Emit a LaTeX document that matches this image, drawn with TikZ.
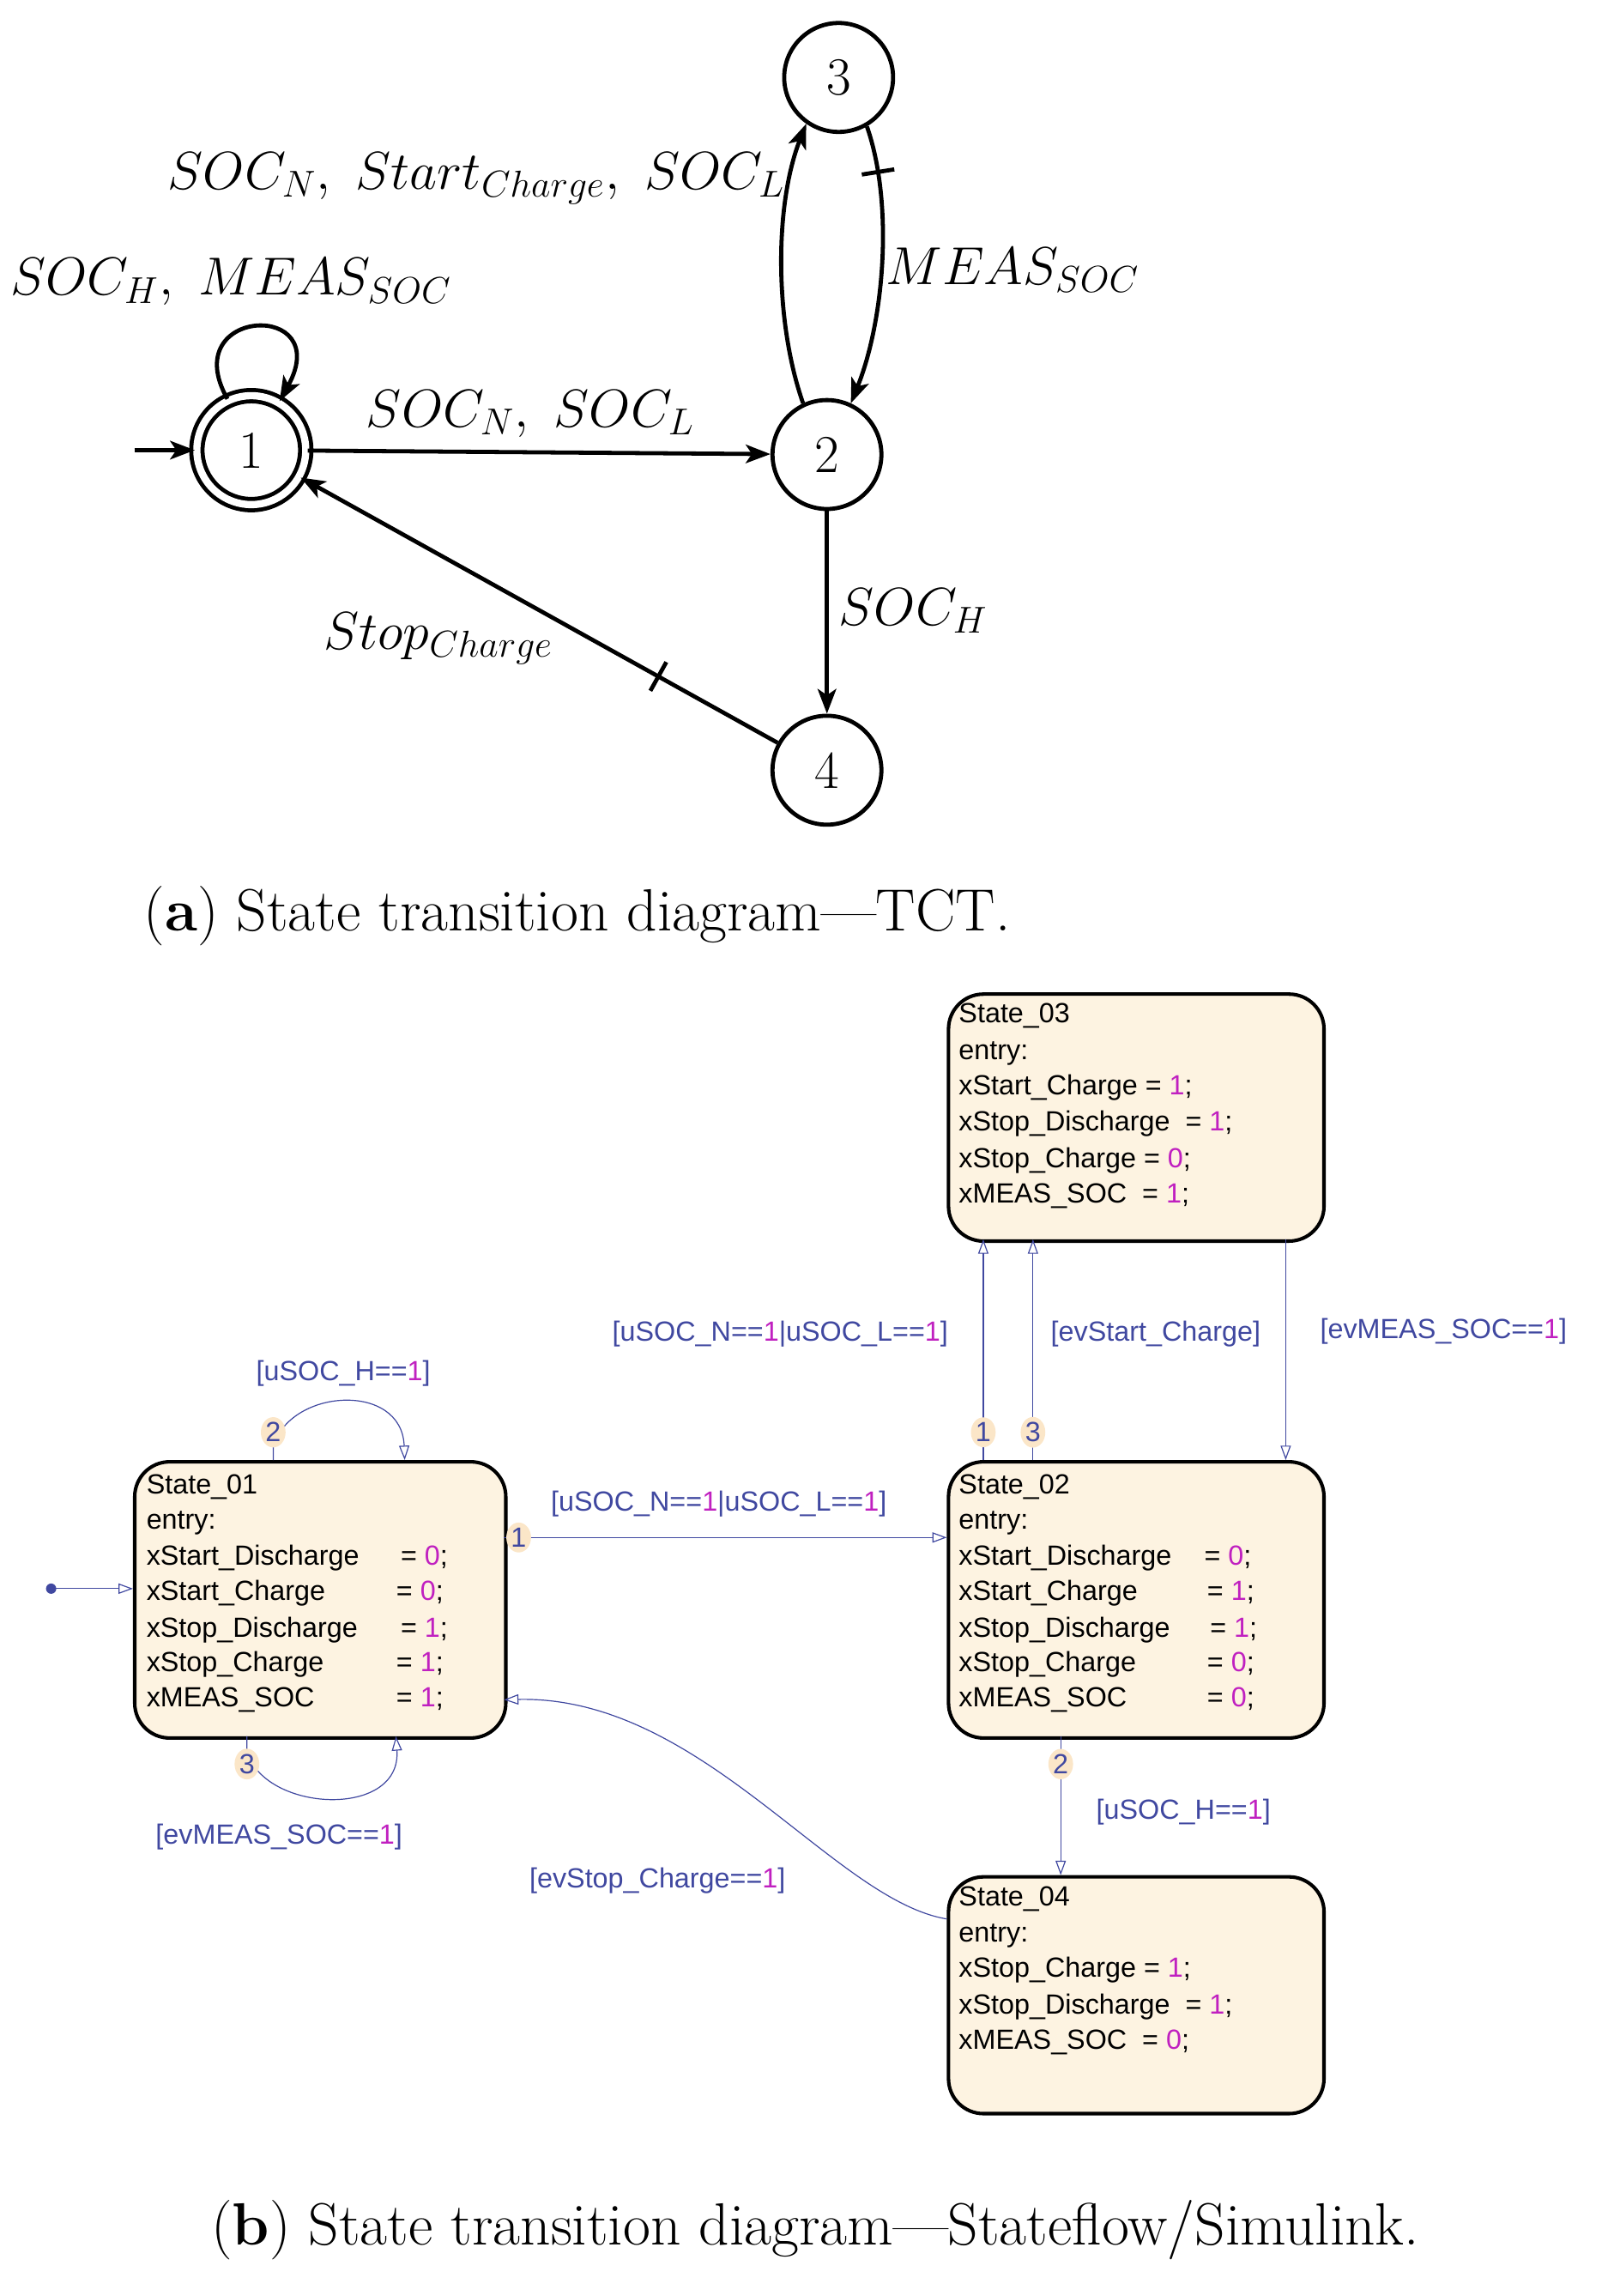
\RequirePackage{fix-cm}
\documentclass[tikz,border=0pt]{standalone}
\usepackage{fontspec}
\newfontfamily\sff{Liberation Sans}
\usetikzlibrary{arrows.meta,shapes.geometric}
\definecolor{sfblue}{HTML}{4048A0}
\definecolor{sfmag}{HTML}{C020C0}
\definecolor{sffill}{HTML}{FDF3E1}
\definecolor{sfnum}{HTML}{FBE6C8}
\newcommand{\vv}[1]{\textcolor{sfmag}{#1}}
\begin{document}
\begin{tikzpicture}[x=0.025cm,y=-0.025cm,
  st/.style={circle,draw,line width=2pt,minimum size=53pt,inner sep=0pt,font=\fontsize{26}{30}\selectfont},
  tr/.style={line width=2pt,-{Stealth[length=12pt,width=9pt,inset=3pt]}},
  lab/.style={font=\fontsize{26}{30}\selectfont},
  captxt/.style={font=\fontsize{29}{34}\selectfont},
  box/.style={draw,line width=1.7pt,fill=sffill,rounded corners=17pt,anchor=north west,inner sep=0pt},
  tx/.style={anchor=base west,inner sep=0pt,font=\sff\fontsize{13.5}{16}\selectfont},
  sft/.style={draw=sfblue,line width=0.5pt,-{Triangle[open,length=7pt,width=5pt]}},
  sfl/.style={font=\sff\fontsize{13.5}{16}\selectfont,text=sfblue,inner sep=1pt},
  num/.style={font=\sff\fontsize{13.5}{16}\selectfont,text=sfblue,fill=sfnum,ellipse,inner sep=0.5pt},
  tick/.style={sloped,inner sep=0pt}]
\useasboundingbox (0,0) rectangle (1100,1571);
% ---------- (a) ----------
\node[st,double,double distance=3.5pt] (n1) at (172,308) {1};
\node[st] (n2) at (566,311) {2};
\node[st] (n3) at (574,53) {3};
\node[st] (n4) at (566,527) {4};
\coordinate (init) at (92,308);
\draw[tr] (init) -- (n1);
\draw[tr] (n1.115) .. controls (120,210) and (230,205) .. (n1.60);
\node[lab] (l1) at (158,193) {$SOC_H,\ MEAS_{SOC}$};
\draw[tr] (n1) -- (n2);
\node[lab] (l2) at (363,283) {$SOC_N,\ SOC_L$};
\draw[tr] (n2.115) .. controls (530,220) and (530,140) .. (n3.235);
\node[lab] (l3) at (326,122) {$SOC_N,\ Start_{Charge},\ SOC_L$};
\draw[tr] (n3.300) .. controls (612,140) and (605,220) .. (n2.65) node[tick,pos=0.18]{\rule{2pt}{16pt}};
\node[lab] (l4) at (693,185) {$MEAS_{SOC}$};
\draw[tr] (n2) -- (n4);
\node[lab] (l5) at (625,418) {$SOC_H$};
\draw[tr] (n4) -- (n1) node[tick,pos=0.25]{\rule{2pt}{16pt}};
\node[lab] (l6) at (300,437) {$Stop_{Charge}$};
\node[captxt] (ca) at (395,627) {(\textbf{a}) State transition diagram---TCT.};
% ---------- (b) ----------
\node[box,minimum width=254*0.025cm,minimum height=189*0.025cm] (s1) at (91,999) {};
\node[box,minimum width=257*0.025cm,minimum height=189*0.025cm] (s2) at (648,999) {};
\node[box,minimum width=257*0.025cm,minimum height=169*0.025cm] (s3) at (648,679) {};
\node[box,minimum width=257*0.025cm,minimum height=162*0.025cm] (s4) at (648,1283) {};
% State_01 text
\node[tx] at (100,1022) {State\_01};
\node[tx] at (100,1046) {entry:};
\node[tx] at (100,1071) {xStart\_Discharge};
\node[tx] at (100,1095) {xStart\_Charge};
\node[tx] at (100,1120) {xStop\_Discharge};
\node[tx] at (100,1144) {xStop\_Charge};
\node[tx] at (100,1168) {xMEAS\_SOC};
\node[tx] at (274,1071) {= \vv{0};};
\node[tx] at (271,1095) {= \vv{0};};
\node[tx] at (274,1120) {= \vv{1};};
\node[tx] at (271,1144) {= \vv{1};};
\node[tx] at (271,1168) {= \vv{1};};
% State_02 text
\node[tx] at (656,1022) {State\_02};
\node[tx] at (656,1046) {entry:};
\node[tx] at (656,1071) {xStart\_Discharge};
\node[tx] at (656,1095) {xStart\_Charge};
\node[tx] at (656,1120) {xStop\_Discharge};
\node[tx] at (656,1144) {xStop\_Charge};
\node[tx] at (656,1168) {xMEAS\_SOC};
\node[tx] at (824,1071) {= \vv{0};};
\node[tx] at (826,1095) {= \vv{1};};
\node[tx] at (828,1120) {= \vv{1};};
\node[tx] at (826,1144) {= \vv{0};};
\node[tx] at (826,1168) {= \vv{0};};
% State_03 text
\node[tx] at (656,700) {State\_03};
\node[tx] at (656,725) {entry:};
\node[tx] at (656,749) {xStart\_Charge = \vv{1};};
\node[tx] at (656,774) {xStop\_Discharge~~= \vv{1};};
\node[tx] at (656,799) {xStop\_Charge = \vv{0};};
\node[tx] at (656,823) {xMEAS\_SOC~~= \vv{1};};
% State_04 text
\node[tx] at (656,1304) {State\_04};
\node[tx] at (656,1329) {entry:};
\node[tx] at (656,1353) {xStop\_Charge = \vv{1};};
\node[tx] at (656,1378) {xStop\_Discharge~~= \vv{1};};
\node[tx] at (656,1402) {xMEAS\_SOC~~= \vv{0};};
% transitions
\fill[sfblue] (35,1087) circle (2.5pt);
\coordinate (d0) at (35,1087);
\draw[sft] (d0) -- (s1.west |- d0);
\coordinate (a1) at (345,1052);
\coordinate (b1) at (648,1052);
\draw[sft] (a1) -- (b1);
\node[num] (k1) at (355,1052) {1};
\node[sfl] (t1) at (492,1029) {[uSOC\_N==\vv{1}|uSOC\_L==\vv{1}]};
\coordinate (a2) at (187,999);
\coordinate (b2) at (277,999);
\draw[sft] (a2) -- (187,990) .. controls (198,950) and (275,945) .. (b2);
\node[num] (k2) at (187,980) {2};
\node[sfl] (t2) at (235,940) {[uSOC\_H==\vv{1}]};
\coordinate (a3) at (169,1188);
\coordinate (b3) at (271,1188);
\draw[sft] (a3) -- (169,1198) .. controls (180,1240) and (275,1245) .. (b3);
\node[num] (k3) at (169,1207) {3};
\node[sfl] (t3) at (191,1257) {[evMEAS\_SOC==\vv{1}]};
\coordinate (a4) at (673,999);
\coordinate (b4) at (673,848);
\draw[sft] (a4) -- (b4);
\node[num] (k4) at (673,980) {1};
\node[sfl] (t4) at (534,913) {[uSOC\_N==\vv{1}|uSOC\_L==\vv{1}]};
\coordinate (a5) at (707,999);
\coordinate (b5) at (707,848);
\draw[sft] (a5) -- (b5);
\node[num] (k5) at (707,980) {3};
\node[sfl] (t5) at (791,913) {[evStart\_Charge]};
\coordinate (a6) at (880,848);
\coordinate (b6) at (880,999);
\draw[sft] (a6) -- (b6);
\node[sfl] (t6) at (988,911) {[evMEAS\_SOC==\vv{1}]};
\coordinate (a7) at (726,1188);
\coordinate (b7) at (726,1283);
\draw[sft] (a7) -- (b7);
\node[num] (k7) at (726,1207) {2};
\node[sfl] (t7) at (810,1240) {[uSOC\_H==\vv{1}]};
\coordinate (a8) at (648,1313);
\coordinate (b8) at (345,1163);
\draw[sft] (a8) .. controls (570,1300) and (480,1160) .. (b8);
\node[sfl] (t8) at (450,1287) {[evStop\_Charge==\vv{1}]};
\node[captxt] (cb) at (558,1526) {(\textbf{b}) State transition diagram---Stateflow/Simulink.};
\end{tikzpicture}
\end{document}
